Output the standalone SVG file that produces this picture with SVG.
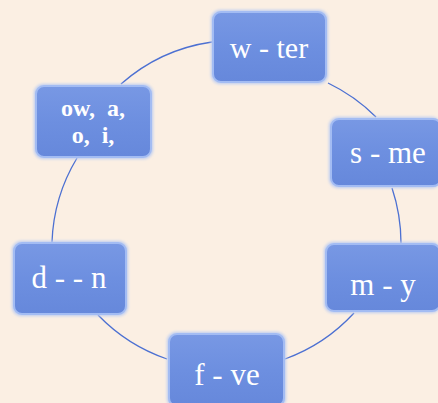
<svg xmlns="http://www.w3.org/2000/svg" width="438" height="403" viewBox="0 0 438 403">
<defs>
<linearGradient id="g" x1="0" y1="0" x2="0" y2="1">
<stop offset="0" stop-color="#7898E4"/>
<stop offset="0.5" stop-color="#6D8FE0"/>
<stop offset="1" stop-color="#6688DB"/>
</linearGradient>
<filter id="glow" x="-10%" y="-10%" width="120%" height="120%">
<feGaussianBlur stdDeviation="1.5"/>
</filter>
</defs>
<style>
.box{fill:url(#g);stroke:#A3BCF3;stroke-width:2}
.halo{fill:#B9CBF2;filter:url(#glow)}
.t{font-family:'Liberation Serif','Times New Roman',serif;fill:#ffffff;font-size:31px;text-anchor:middle;white-space:pre}
.b{font-weight:bold;font-size:24px}
.c{fill:none;stroke:#4C70D2;stroke-width:1.3}
</style>
<rect width="438" height="403" fill="#FBEFE3"/>
<g id="connectors">
<path class="c" d="M121,84 A175,175 0 0,1 212,42"/>
<path class="c" d="M328,83 A175,175 0 0,1 376,117"/>
<path class="c" d="M392,188 A175,175 0 0,1 401,243"/>
<path class="c" d="M354,313 A175,175 0 0,1 285,359"/>
<path class="c" d="M167,359 A175,175 0 0,1 98,315"/>
<path class="c" d="M52,242 A175,175 0 0,1 77,158"/>
</g>
<g id="n-water">
<rect class="halo" x="211" y="10" width="117" height="74" rx="9"/>
<rect class="box" x="213" y="12" width="113" height="70" rx="8"/>
<text class="t" x="269" y="58" style="font-size:30px">w - ter</text>
</g>
<g id="n-ow">
<rect class="halo" x="34" y="84" width="119" height="75" rx="9"/>
<rect class="box" x="36" y="86" width="115" height="71" rx="8"/>
<text class="t b" x="93" y="116" xml:space="preserve">ow,  a,</text>
<text class="t b" x="93" y="143" xml:space="preserve">o,  i,</text>
</g>
<g id="n-same">
<rect class="halo" x="329" y="117" width="112" height="71" rx="9"/>
<rect class="box" x="331" y="119" width="110" height="67" rx="8"/>
<text class="t" x="388" y="163">s - me</text>
</g>
<g id="n-many">
<rect class="halo" x="324" y="242" width="117" height="71" rx="9"/>
<rect class="box" x="326" y="244" width="114" height="67" rx="8"/>
<text class="t" x="383" y="295">m - y</text>
</g>
<g id="n-down">
<rect class="halo" x="12" y="241" width="116" height="75" rx="9"/>
<rect class="box" x="14" y="243" width="112" height="71" rx="8"/>
<text class="t" x="69" y="288">d - - n</text>
</g>
<g id="n-five">
<rect class="halo" x="167" y="332" width="119" height="76" rx="9"/>
<rect class="box" x="169" y="334" width="115" height="72" rx="8"/>
<text class="t" x="227" y="385">f - ve</text>
</g>
</svg>
